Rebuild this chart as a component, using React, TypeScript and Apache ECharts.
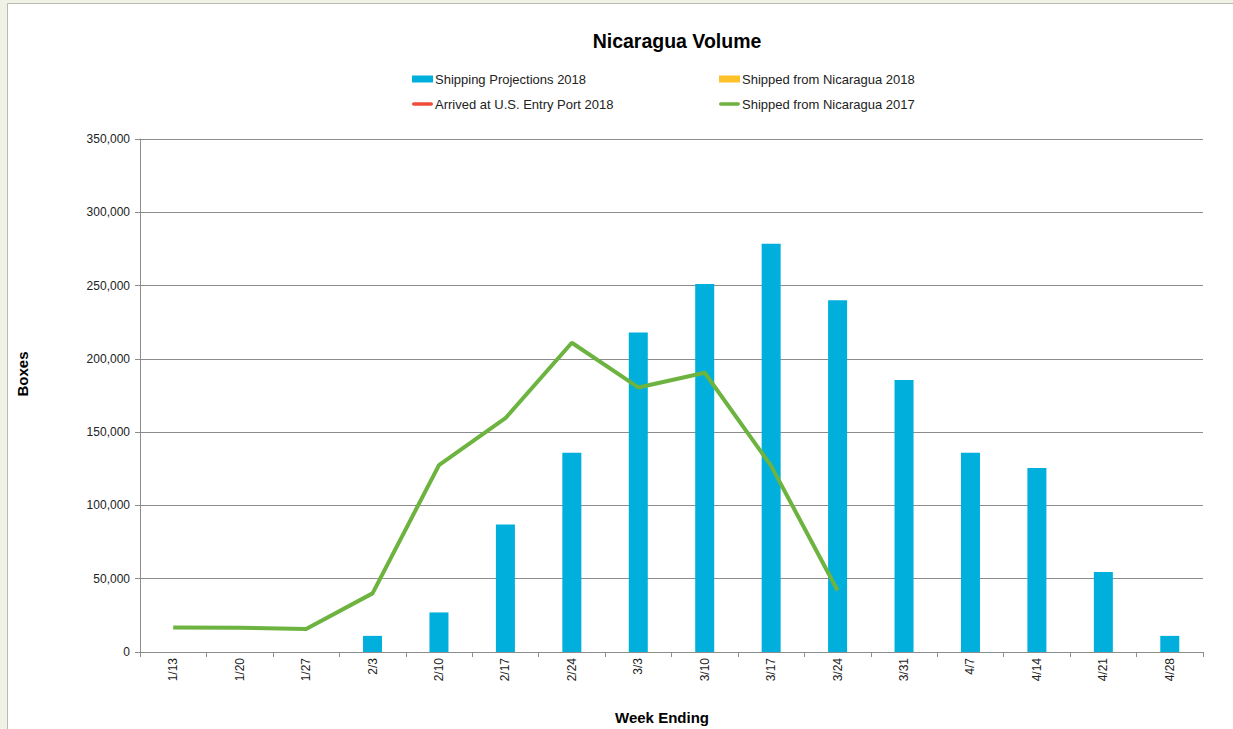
import React, { useEffect, useRef } from "react";
import * as echarts from "echarts";

const weeks = ["1/13", "1/20", "1/27", "2/3", "2/10", "2/17", "2/24", "3/3", "3/10", "3/17", "3/24", "3/31", "4/7", "4/14", "4/21", "4/28"];
const projections2018 = [null, null, null, 11000, 27000, 87000, 136000, 218000, 251000, 278500, 240000, 185500, 136000, 125500, 54500, 11000];
const shippedNic2018: (number | null)[] = [];
const arrivedUS2018: (number | null)[] = [];
const shippedNic2017 = [16700, 16500, 15700, 40000, 127500, 159500, 211000, 180500, 190500, 127000, 42000, null, null, null, null, null];
const yTicks = { min: 0, max: 350000, interval: 50000 };

const FONT = "'Liberation Sans', Arial, Helvetica, sans-serif";

export default function App() {
  const ref = useRef<HTMLDivElement>(null);
  useEffect(() => {
    const chart = echarts.init(ref.current!, undefined, { renderer: "svg" });
    const barIcon = "path://M0,0 h21 v7 h-21 z";
    const lineIcon = "path://M2,0 h19 a2,2 0 0 1 0,4 h-19 a2,2 0 0 1 0,-4 z";
    const legendText = { fontFamily: FONT, fontSize: 13, color: "#222", lineHeight: 14, padding: [0, 0, 0, -3] };
    chart.setOption({
      animation: false,
      backgroundColor: "#f1f2e6",
      textStyle: { fontFamily: FONT },
      graphic: [
        {
          type: "rect",
          z: -10,
          shape: { x: 7.5, y: 3.5, width: 1240, height: 740 },
          style: { fill: "#ffffff", stroke: "#b9bab0", lineWidth: 1 },
        },
        {
          type: "text",
          x: 22,
          y: 374,
          rotation: Math.PI / 2,
          style: {
            text: "Boxes",
            font: `bold 15px ${FONT}`,
            fill: "#000",
            align: "center",
            verticalAlign: "middle",
          },
        },
        {
          type: "text",
          x: 662,
          y: 717,
          style: {
            text: "Week Ending",
            font: `bold 15px ${FONT}`,
            fill: "#000",
            align: "center",
            verticalAlign: "middle",
          },
        },
      ],
      title: {
        text: "Nicaragua Volume",
        left: 672,
        top: 26,
        textAlign: "center",
        textStyle: { fontFamily: FONT, fontSize: 19.5, fontWeight: "bold", color: "#000" },
      },
      legend: [
        {
          left: 407,
          top: 67,
          orient: "vertical",
          itemWidth: 21,
          itemHeight: 7,
          itemGap: 11,
          textStyle: legendText,
          data: [
            { name: "Shipping Projections 2018", icon: barIcon },
            { name: "Arrived at U.S. Entry Port 2018", icon: lineIcon },
          ],
        },
        {
          left: 714,
          top: 67,
          orient: "vertical",
          itemWidth: 21,
          itemHeight: 7,
          itemGap: 11,
          textStyle: legendText,
          data: [
            { name: "Shipped from Nicaragua 2018", icon: barIcon },
            { name: "Shipped from Nicaragua 2017", icon: lineIcon },
          ],
        },
      ],
      grid: { left: 140, right: 30, top: 139, bottom: 77 },
      xAxis: {
        type: "category",
        data: weeks,
        boundaryGap: true,
        axisLine: { lineStyle: { color: "#8c8c8c", width: 1 } },
        axisTick: { show: true, length: 5, alignWithLabel: false, lineStyle: { color: "#8c8c8c" } },
        axisLabel: { rotate: 90, margin: 6, fontSize: 12, color: "#222", fontFamily: FONT },
        splitLine: { show: false },
      },
      yAxis: {
        type: "value",
        min: yTicks.min,
        max: yTicks.max,
        interval: yTicks.interval,
        axisLine: { show: true, lineStyle: { color: "#8c8c8c", width: 1 } },
        axisTick: { show: true, length: 5, lineStyle: { color: "#8c8c8c" } },
        axisLabel: {
          margin: 10,
          fontSize: 12,
          color: "#222",
          fontFamily: FONT,
          formatter: (v: number) => v.toLocaleString("en-US"),
        },
        splitLine: { show: true, lineStyle: { color: "#8c8c8c", width: 1 } },
      },
      series: [
        {
          name: "Shipping Projections 2018",
          type: "bar",
          data: projections2018,
          barWidth: 19,
          barGap: "-100%",
          itemStyle: { color: "#00afdc" },
          z: 2,
        },
        {
          name: "Shipped from Nicaragua 2018",
          type: "bar",
          data: shippedNic2018,
          barWidth: 19,
          barGap: "-100%",
          itemStyle: { color: "#fdc12a" },
        },
        {
          name: "Arrived at U.S. Entry Port 2018",
          type: "line",
          data: arrivedUS2018,
          symbol: "none",
          itemStyle: { color: "#ef4b37" },
          lineStyle: { color: "#ef4b37", width: 4 },
        },
        {
          name: "Shipped from Nicaragua 2017",
          type: "line",
          data: shippedNic2017,
          symbol: "none",
          connectNulls: false,
          itemStyle: { color: "#6cb33f" },
          lineStyle: { color: "#6cb33f", width: 4 },
          z: 3,
        },
      ],
    });
    return () => chart.dispose();
  }, []);
  return (
    <div style={{ position: "fixed", left: 0, top: 0, width: 1233, height: 729 }}>
      <div ref={ref} style={{ width: 1233, height: 729 }} />
    </div>
  );
}
